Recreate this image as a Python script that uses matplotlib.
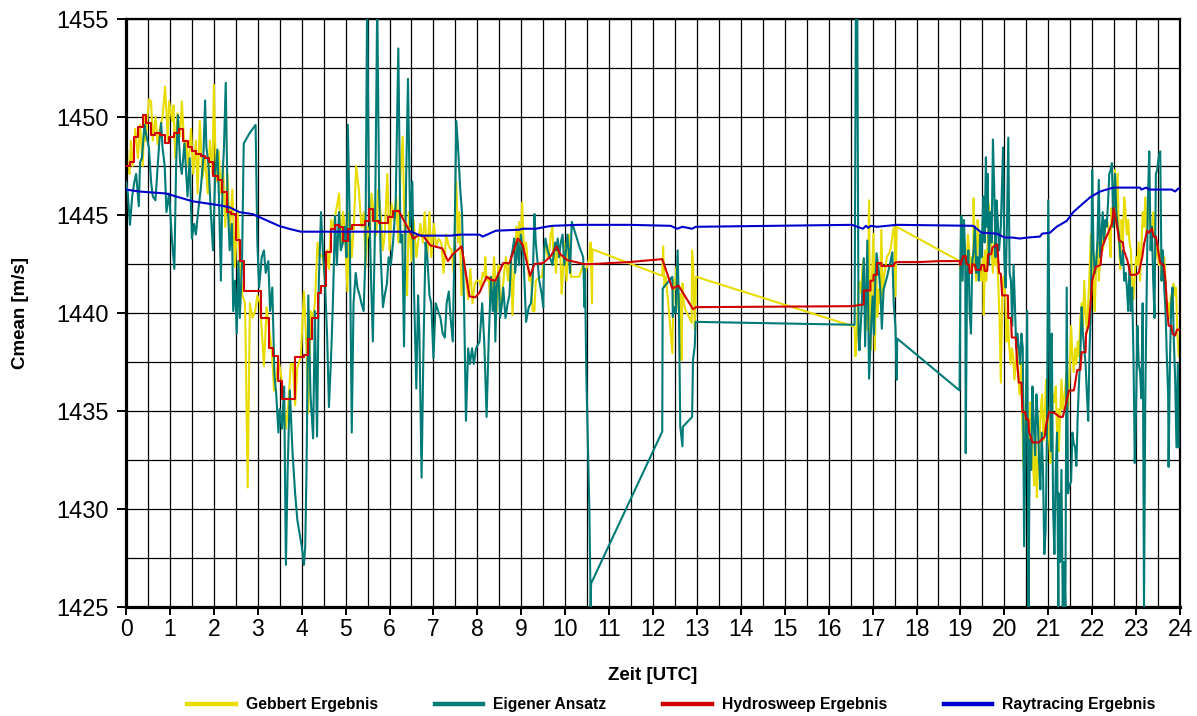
import matplotlib.pyplot as plt
from matplotlib.lines import Line2D
from matplotlib.ticker import MultipleLocator

# (time [h UTC], mean sound velocity [m/s])
gebbert = [
    (0.00, 1449.5), (0.04, 1447.5), (0.08, 1447.1), (0.11, 1448.8), (0.15, 1447.5), (0.21, 1449.4), (0.27, 1447.9),
    (0.32, 1449.6), (0.38, 1447.5), (0.42, 1450.0), (0.45, 1448.8), (0.52, 1450.9), (0.57, 1450.8), (0.61, 1448.8),
    (0.67, 1450.0), (0.72, 1448.6), (0.77, 1449.4), (0.83, 1450.0), (0.89, 1451.55), (0.95, 1448.8), (0.98, 1450.8),
    (1.05, 1449.8), (1.08, 1450.6), (1.12, 1447.9), (1.17, 1450.2), (1.23, 1449.0), (1.27, 1450.8), (1.33, 1448.45),
    (1.36, 1448.8), (1.42, 1447.5), (1.48, 1449.4), (1.53, 1447.1), (1.59, 1448.8), (1.63, 1446.1), (1.68, 1449.8),
    (1.74, 1446.9), (1.80, 1447.9), (1.86, 1446.1), (1.91, 1448.8), (1.97, 1447.1), (2.00, 1451.65), (2.05, 1446.7),
    (2.11, 1448.25), (2.16, 1446.1), (2.21, 1447.5), (2.26, 1444.4), (2.31, 1447.1), (2.36, 1444.0), (2.42, 1446.3),
    (2.48, 1442.35), (2.54, 1445.15), (2.59, 1442.65), (2.65, 1440.9), (2.71, 1440.5), (2.77, 1431.1), (2.82, 1440.5),
    (2.88, 1439.75), (2.94, 1440.1), (2.99, 1440.9), (3.05, 1440.5), (3.09, 1439.15), (3.14, 1437.3), (3.20, 1440.3),
    (3.26, 1439.15), (3.32, 1438.1), (3.37, 1436.05), (3.41, 1436.6), (3.47, 1437.6), (3.52, 1437.0), (3.58, 1435.85),
    (3.64, 1434.1), (3.70, 1435.45), (3.75, 1437.4), (3.80, 1437.4), (3.85, 1435.3), (3.90, 1437.2), (3.98, 1437.8),
    (4.05, 1441.1), (4.11, 1438.2), (4.15, 1434.9), (4.20, 1440.1), (4.26, 1439.75), (4.30, 1440.5), (4.36, 1443.6),
    (4.41, 1442.85), (4.47, 1443.0), (4.53, 1441.65), (4.58, 1443.2), (4.62, 1442.25), (4.67, 1444.75), (4.71, 1444.4),
    (4.76, 1444.95), (4.81, 1445.55), (4.85, 1446.1), (4.89, 1443.4), (4.94, 1445.15), (4.98, 1444.4), (5.04, 1441.1),
    (5.08, 1445.15), (5.14, 1442.85), (5.19, 1444.55), (5.24, 1447.5), (5.30, 1446.3), (5.36, 1444.4), (5.42, 1445.15),
    (5.45, 1442.25), (5.50, 1444.4), (5.55, 1443.8), (5.59, 1446.1), (5.64, 1445.15), (5.70, 1444.0), (5.74, 1446.3),
    (5.80, 1444.95), (5.85, 1443.2), (5.89, 1444.0), (5.95, 1447.1), (6.00, 1443.2), (6.05, 1445.55), (6.10, 1444.75),
    (6.15, 1445.9), (6.20, 1443.6), (6.25, 1447.1), (6.30, 1449.0), (6.35, 1443.2), (6.40, 1440.9), (6.44, 1445.15),
    (6.50, 1442.65), (6.55, 1444.75), (6.61, 1442.85), (6.65, 1443.6), (6.70, 1444.55), (6.76, 1443.6), (6.80, 1445.15),
    (6.86, 1442.85), (6.91, 1445.15), (6.95, 1442.85), (7.01, 1444.55), (7.06, 1443.4), (7.12, 1443.8), (7.18, 1443.6),
    (7.23, 1442.05), (7.29, 1444.0), (7.35, 1443.4), (7.41, 1443.2), (7.46, 1442.05), (7.52, 1446.7), (7.56, 1443.6),
    (7.59, 1445.15), (7.64, 1440.9), (7.69, 1442.85), (7.74, 1441.85), (7.79, 1440.7), (7.84, 1442.25), (7.89, 1440.5),
    (7.94, 1441.5), (7.99, 1441.65), (8.05, 1441.65), (8.08, 1441.3), (8.12, 1442.05), (8.16, 1441.85), (8.18, 1442.85),
    (8.21, 1441.65), (8.26, 1441.85), (8.29, 1440.5), (8.32, 1441.3), (8.35, 1441.3), (8.38, 1442.85), (8.41, 1441.65),
    (8.44, 1440.1), (8.47, 1441.65), (8.48, 1442.45), (8.52, 1440.9), (8.55, 1440.3), (8.58, 1441.3), (8.61, 1442.05),
    (8.65, 1442.85), (8.70, 1441.65), (8.73, 1442.45), (8.77, 1442.85), (8.80, 1439.9), (8.83, 1441.65), (8.86, 1442.65),
    (8.89, 1444.4), (8.92, 1443.2), (8.95, 1444.65), (8.98, 1443.2), (9.02, 1445.65), (9.06, 1443.2), (9.11, 1443.6),
    (9.15, 1442.45), (9.18, 1441.65), (9.22, 1442.05), (9.26, 1440.1), (9.30, 1440.1), (9.33, 1441.65), (9.41, 1441.85),
    (9.47, 1441.85), (9.50, 1442.45), (9.53, 1443.2), (9.56, 1443.6), (9.60, 1442.85), (9.64, 1443.2), (9.67, 1444.0),
    (9.71, 1444.4), (9.73, 1442.85), (9.76, 1443.2), (9.79, 1442.05), (9.83, 1443.6), (9.86, 1443.2), (9.89, 1442.85),
    (9.92, 1441.0), (9.95, 1442.05), (9.98, 1443.6), (10.03, 1441.65), (10.06, 1442.85), (10.09, 1444.0), (10.13, 1441.85),
    (10.32, 1441.85), (10.41, 1442.45), (10.45, 1442.05), (10.51, 1442.45), (10.55, 1442.85), (10.58, 1443.6),
    (10.61, 1440.5), (10.62, 1443.25), (12.21, 1441.9), (12.23, 1443.4), (12.26, 1441.35), (12.29, 1441.85),
    (12.36, 1440.15), (12.41, 1438.8), (12.44, 1437.95), (12.47, 1441.7), (12.50, 1441.2), (12.53, 1442.35),
    (12.58, 1440.15), (12.62, 1441.0), (12.65, 1437.6), (12.67, 1441.5), (12.70, 1440.5), (12.74, 1440.15),
    (12.82, 1439.8), (12.88, 1439.5), (12.89, 1443.2), (12.92, 1442.2), (12.95, 1439.15), (12.98, 1441.85),
    (16.59, 1439.3), (16.61, 1437.8), (16.64, 1438.8), (16.68, 1441.5), (16.71, 1441.6), (16.74, 1441.0), (16.77, 1442.35),
    (16.80, 1442.7), (16.83, 1439.65), (16.86, 1439.15), (16.89, 1440.3), (16.92, 1445.75), (16.94, 1439.15),
    (16.95, 1438.1), (16.98, 1441.5), (17.02, 1444.05), (17.05, 1438.1), (17.08, 1442.2), (17.11, 1439.8), (17.14, 1441.2),
    (17.17, 1440.5), (17.20, 1444.25), (17.23, 1440.85), (17.26, 1441.85), (17.29, 1442.35), (17.33, 1442.9),
    (17.38, 1443.05), (17.42, 1443.4), (17.47, 1444.25), (17.50, 1444.4), (17.52, 1440.85), (17.55, 1444.4),
    (18.98, 1442.65), (19.02, 1441.65), (19.05, 1444.75), (19.08, 1442.45), (19.11, 1442.85), (19.14, 1442.05),
    (19.17, 1444.0), (19.20, 1443.2), (19.23, 1442.05), (19.26, 1442.85), (19.29, 1442.45), (19.30, 1445.85),
    (19.33, 1442.65), (19.36, 1441.65), (19.39, 1444.75), (19.42, 1444.0), (19.45, 1442.45), (19.48, 1441.65),
    (19.52, 1442.85), (19.53, 1439.9), (19.56, 1443.2), (19.59, 1441.65), (19.62, 1443.6), (19.65, 1445.55),
    (19.68, 1444.4), (19.71, 1443.2), (19.74, 1442.05), (19.77, 1443.6), (19.80, 1442.45), (19.83, 1442.85),
    (19.86, 1441.65), (19.89, 1439.75), (19.92, 1436.45), (19.95, 1440.7), (19.98, 1441.85), (20.02, 1440.9),
    (20.05, 1438.55), (20.08, 1439.75), (20.11, 1438.35), (20.14, 1437.4), (20.17, 1438.2), (20.20, 1437.8),
    (20.23, 1436.6), (20.26, 1437.4), (20.29, 1438.2), (20.32, 1436.6), (20.35, 1435.85), (20.38, 1437.4),
    (20.41, 1434.3), (20.44, 1432.0), (20.47, 1434.3), (20.50, 1436.6), (20.53, 1433.9), (20.56, 1432.95),
    (20.59, 1435.45), (20.62, 1434.1), (20.65, 1432.35), (20.68, 1431.2), (20.71, 1433.9), (20.74, 1430.6),
    (20.77, 1432.35), (20.80, 1433.5), (20.83, 1435.1), (20.86, 1435.85), (20.89, 1433.5), (20.92, 1434.7),
    (20.95, 1436.6), (20.98, 1434.9), (21.02, 1433.5), (21.05, 1432.35), (21.08, 1434.9), (21.11, 1435.85),
    (21.14, 1435.45), (21.17, 1436.25), (21.20, 1433.9), (21.23, 1435.1), (21.24, 1432.95), (21.27, 1434.7),
    (21.30, 1436.6), (21.33, 1435.1), (21.36, 1435.65), (21.39, 1436.25), (21.42, 1437.0), (21.45, 1435.1),
    (21.48, 1436.6), (21.52, 1439.35), (21.55, 1437.8), (21.58, 1437.0), (21.61, 1438.2), (21.64, 1437.4),
    (21.67, 1438.55), (21.70, 1437.8), (21.73, 1439.75), (21.76, 1440.5), (21.79, 1439.35), (21.82, 1441.65),
    (21.85, 1440.1), (21.88, 1438.95), (21.91, 1440.5), (21.94, 1442.05), (21.97, 1444.0), (22.00, 1442.85),
    (22.03, 1441.3), (22.06, 1440.1), (22.09, 1442.65), (22.12, 1443.6), (22.15, 1441.65), (22.18, 1442.65),
    (22.21, 1444.0), (22.24, 1443.2), (22.27, 1443.6), (22.30, 1444.4), (22.33, 1444.75), (22.36, 1444.55),
    (22.39, 1444.0), (22.42, 1442.85), (22.44, 1445.35), (22.47, 1444.4), (22.50, 1445.55), (22.52, 1447.3),
    (22.55, 1444.4), (22.58, 1447.1), (22.61, 1443.6), (22.64, 1442.25), (22.67, 1444.75), (22.70, 1443.6),
    (22.73, 1445.9), (22.76, 1445.15), (22.79, 1444.0), (22.82, 1444.75), (22.85, 1443.6), (22.88, 1443.2),
    (22.91, 1441.65), (22.94, 1440.7), (22.97, 1442.05), (23.00, 1442.85), (23.03, 1442.45), (23.06, 1443.6),
    (23.09, 1441.65), (23.12, 1443.2), (23.15, 1445.15), (23.18, 1444.4), (23.21, 1445.9), (23.24, 1444.0),
    (23.27, 1444.95), (23.30, 1445.9), (23.33, 1444.4), (23.36, 1443.6), (23.39, 1445.15), (23.42, 1444.4),
    (23.45, 1442.85), (23.48, 1443.6), (23.52, 1442.45), (23.55, 1443.2), (23.58, 1441.65), (23.61, 1442.05),
    (23.64, 1442.85), (23.67, 1441.65), (23.70, 1440.1), (23.73, 1440.5), (23.76, 1439.75), (23.79, 1440.9),
    (23.82, 1440.1), (23.85, 1441.5), (23.88, 1440.9), (23.91, 1441.3), (23.94, 1438.95), (23.97, 1437.8),
]

eigener = [
    (0.00, 1446.7), (0.04, 1446.1), (0.09, 1444.5), (0.14, 1445.95), (0.19, 1446.7), (0.23, 1447.1), (0.29, 1445.45),
    (0.32, 1447.7), (0.36, 1447.9), (0.42, 1449.6), (0.45, 1449.2), (0.52, 1448.45), (0.57, 1446.7), (0.61, 1445.95),
    (0.67, 1445.75), (0.72, 1447.5), (0.76, 1448.8), (0.80, 1449.7), (0.83, 1448.45), (0.88, 1447.5), (0.92, 1445.15),
    (0.98, 1446.1), (1.05, 1443.6), (1.10, 1442.25), (1.14, 1447.5), (1.18, 1450.1), (1.23, 1447.7), (1.27, 1447.1),
    (1.33, 1448.65), (1.36, 1447.5), (1.40, 1445.95), (1.45, 1447.9), (1.50, 1443.8), (1.55, 1444.55), (1.59, 1444.0),
    (1.64, 1445.15), (1.70, 1446.3), (1.76, 1447.9), (1.80, 1450.85), (1.83, 1448.45), (1.88, 1447.5), (1.93, 1445.15),
    (1.98, 1443.2), (2.03, 1447.1), (2.08, 1448.35), (2.12, 1445.55), (2.16, 1441.65), (2.20, 1447.1), (2.23, 1448.45),
    (2.27, 1451.75), (2.31, 1445.95), (2.36, 1443.2), (2.41, 1444.55), (2.44, 1440.1), (2.48, 1441.65), (2.52, 1438.95),
    (2.56, 1442.65), (2.59, 1439.75), (2.64, 1442.45), (2.68, 1448.65), (2.73, 1448.85), (2.82, 1449.2), (2.95, 1449.6),
    (2.99, 1443.6), (3.03, 1441.3), (3.09, 1442.85), (3.14, 1443.2), (3.18, 1442.05), (3.24, 1442.65), (3.28, 1440.1),
    (3.33, 1441.3), (3.38, 1436.8), (3.42, 1435.85), (3.47, 1433.9), (3.50, 1435.1), (3.55, 1434.1), (3.60, 1436.25),
    (3.64, 1427.15), (3.68, 1432.0), (3.73, 1436.05), (3.79, 1432.95), (3.85, 1430.8), (3.90, 1429.45), (4.00, 1428.1),
    (4.05, 1427.15), (4.08, 1428.1), (4.11, 1432.0), (4.15, 1440.9), (4.20, 1435.85), (4.26, 1433.6), (4.30, 1440.1),
    (4.35, 1433.7), (4.39, 1441.65), (4.44, 1445.15), (4.48, 1443.2), (4.53, 1441.65), (4.58, 1438.75), (4.62, 1435.2),
    (4.67, 1437.8), (4.71, 1440.5), (4.76, 1444.95), (4.80, 1442.45), (4.85, 1445.15), (4.89, 1443.2), (4.94, 1443.6),
    (4.98, 1444.4), (5.02, 1442.85), (5.05, 1449.6), (5.09, 1445.15), (5.14, 1433.9), (5.18, 1440.5), (5.23, 1442.05),
    (5.27, 1441.3), (5.32, 1440.9), (5.36, 1440.5), (5.41, 1440.1), (5.45, 1442.85), (5.49, 1456.0), (5.53, 1446.3),
    (5.58, 1441.65), (5.62, 1438.55), (5.67, 1444.4), (5.72, 1456.0), (5.76, 1446.7), (5.80, 1442.85), (5.85, 1440.3),
    (5.89, 1440.9), (5.94, 1441.5), (5.98, 1442.85), (6.03, 1442.45), (6.08, 1443.6), (6.14, 1445.55), (6.20, 1453.5),
    (6.25, 1443.6), (6.29, 1444.0), (6.33, 1438.3), (6.38, 1447.1), (6.42, 1451.95), (6.47, 1444.4), (6.52, 1446.7),
    (6.56, 1440.9), (6.61, 1436.15), (6.65, 1440.9), (6.68, 1438.95), (6.73, 1431.6), (6.77, 1437.8), (6.82, 1443.6),
    (6.86, 1442.85), (6.91, 1440.9), (6.95, 1440.5), (7.00, 1437.7), (7.05, 1440.5), (7.11, 1440.1), (7.16, 1439.75),
    (7.21, 1438.95), (7.26, 1438.75), (7.30, 1440.5), (7.35, 1441.1), (7.39, 1439.75), (7.44, 1438.55), (7.48, 1443.6),
    (7.52, 1449.8), (7.56, 1448.45), (7.61, 1446.3), (7.65, 1445.15), (7.70, 1440.1), (7.74, 1434.5), (7.79, 1438.2),
    (7.83, 1437.4), (7.88, 1438.2), (7.92, 1437.4), (7.97, 1438.2), (8.05, 1438.55), (8.11, 1440.5), (8.16, 1438.35),
    (8.21, 1434.7), (8.26, 1438.75), (8.31, 1441.85), (8.35, 1440.1), (8.39, 1441.65), (8.41, 1438.55), (8.44, 1441.3),
    (8.48, 1442.05), (8.52, 1439.75), (8.56, 1440.5), (8.59, 1441.3), (8.64, 1439.75), (8.69, 1440.5), (8.73, 1440.9),
    (8.77, 1442.85), (8.80, 1443.2), (8.84, 1443.8), (8.86, 1442.05), (8.89, 1442.85), (8.92, 1443.6), (8.95, 1442.45),
    (8.99, 1444.0), (9.05, 1442.85), (9.11, 1439.55), (9.17, 1440.3), (9.22, 1440.5), (9.26, 1441.65), (9.30, 1445.05),
    (9.33, 1443.6), (9.41, 1441.65), (9.47, 1440.9), (9.50, 1440.3), (9.52, 1443.2), (9.55, 1443.8), (9.60, 1443.2),
    (9.65, 1442.85), (9.71, 1442.45), (9.77, 1443.6), (9.80, 1443.2), (9.83, 1443.8), (9.86, 1442.85), (9.90, 1443.6),
    (9.94, 1444.0), (9.98, 1442.45), (10.02, 1443.2), (10.05, 1444.0), (10.08, 1443.2), (10.11, 1442.05),
    (10.15, 1444.65), (10.24, 1444.0), (10.32, 1443.4), (10.41, 1442.85), (10.44, 1440.3), (10.45, 1442.25),
    (10.48, 1437.0), (10.55, 1430.05), (10.58, 1425.0), (10.59, 1426.2), (12.21, 1433.95), (12.22, 1441.25),
    (12.44, 1441.85), (12.45, 1439.8), (12.48, 1440.3), (12.52, 1440.0), (12.56, 1443.2), (12.59, 1440.15),
    (12.62, 1434.2), (12.67, 1433.2), (12.68, 1434.2), (12.89, 1434.7), (12.91, 1437.6), (12.95, 1438.3),
    (12.97, 1439.55), (16.59, 1439.4), (16.62, 1456.0), (16.65, 1456.0), (16.68, 1438.8), (16.70, 1438.1),
    (16.74, 1439.8), (16.80, 1442.8), (16.83, 1438.3), (16.88, 1443.7), (16.92, 1436.65), (16.97, 1439.5),
    (17.00, 1440.85), (17.03, 1438.9), (17.06, 1441.5), (17.09, 1443.05), (17.14, 1442.2), (17.18, 1441.0),
    (17.21, 1439.2), (17.25, 1441.2), (17.33, 1441.85), (17.40, 1442.55), (17.45, 1443.1), (17.48, 1440.5),
    (17.52, 1439.3), (17.55, 1436.6), (17.56, 1438.7), (18.98, 1436.05), (19.00, 1442.65), (19.02, 1444.95),
    (19.05, 1441.65), (19.08, 1444.75), (19.11, 1442.85), (19.12, 1432.85), (19.15, 1441.65), (19.18, 1443.2),
    (19.21, 1440.1), (19.24, 1438.95), (19.27, 1442.65), (19.30, 1443.2), (19.33, 1444.4), (19.36, 1442.05),
    (19.39, 1442.85), (19.42, 1441.65), (19.45, 1444.0), (19.48, 1442.85), (19.52, 1445.95), (19.55, 1443.6),
    (19.58, 1447.95), (19.60, 1444.4), (19.62, 1447.1), (19.65, 1442.45), (19.68, 1445.15), (19.71, 1443.6),
    (19.74, 1448.85), (19.77, 1446.3), (19.80, 1442.85), (19.82, 1445.75), (19.85, 1444.75), (19.88, 1443.2),
    (19.92, 1444.4), (19.97, 1448.45), (20.00, 1442.85), (20.03, 1441.3), (20.06, 1444.55), (20.09, 1448.95),
    (20.12, 1442.05), (20.15, 1441.65), (20.18, 1439.35), (20.21, 1442.45), (20.24, 1440.5), (20.27, 1438.2),
    (20.30, 1438.95), (20.33, 1438.2), (20.36, 1437.4), (20.39, 1438.95), (20.42, 1438.2), (20.45, 1428.1),
    (20.48, 1433.35), (20.52, 1440.1), (20.55, 1425.0), (20.58, 1433.55), (20.61, 1432.0), (20.64, 1436.25),
    (20.67, 1434.3), (20.70, 1432.75), (20.73, 1435.85), (20.76, 1434.7), (20.79, 1432.55), (20.82, 1431.0),
    (20.85, 1433.9), (20.88, 1432.0), (20.91, 1427.7), (20.94, 1428.9), (20.97, 1433.9), (21.00, 1445.75),
    (21.03, 1438.2), (21.06, 1432.95), (21.08, 1438.95), (21.11, 1430.05), (21.14, 1427.7), (21.17, 1432.0),
    (21.20, 1433.9), (21.23, 1424.6), (21.24, 1430.8), (21.27, 1427.3), (21.30, 1432.0), (21.33, 1425.0),
    (21.36, 1427.3), (21.39, 1425.0), (21.42, 1441.3), (21.45, 1430.8), (21.48, 1431.2), (21.52, 1431.4),
    (21.55, 1433.9), (21.58, 1433.35), (21.61, 1433.15), (21.64, 1432.2), (21.67, 1434.7), (21.70, 1436.45),
    (21.73, 1437.8), (21.76, 1440.3), (21.79, 1438.95), (21.82, 1438.2), (21.85, 1437.4), (21.88, 1435.85),
    (21.91, 1434.5), (21.94, 1438.2), (21.97, 1440.1), (22.00, 1447.3), (22.03, 1443.2), (22.06, 1442.05),
    (22.09, 1442.45), (22.12, 1443.6), (22.15, 1446.8), (22.18, 1442.85), (22.21, 1444.0), (22.24, 1445.15),
    (22.27, 1443.6), (22.30, 1444.75), (22.33, 1444.4), (22.36, 1445.55), (22.39, 1447.1), (22.42, 1447.3),
    (22.45, 1447.65), (22.48, 1444.4), (22.52, 1447.1), (22.55, 1445.15), (22.58, 1444.4), (22.61, 1444.0),
    (22.64, 1442.85), (22.67, 1442.45), (22.70, 1443.2), (22.73, 1441.65), (22.76, 1442.05), (22.79, 1441.3),
    (22.82, 1440.1), (22.85, 1442.45), (22.88, 1440.1), (22.91, 1441.3), (22.94, 1437.8), (22.97, 1432.35),
    (23.00, 1435.25), (23.03, 1439.35), (23.06, 1437.4), (23.09, 1437.0), (23.12, 1435.65), (23.15, 1440.5),
    (23.18, 1425.0), (23.21, 1435.85), (23.24, 1440.9), (23.27, 1445.95), (23.30, 1448.25), (23.33, 1443.2),
    (23.36, 1444.4), (23.39, 1441.65), (23.42, 1439.75), (23.45, 1447.1), (23.48, 1447.3), (23.52, 1448.05),
    (23.55, 1448.25), (23.58, 1441.65), (23.61, 1443.2), (23.64, 1441.3), (23.67, 1440.1), (23.70, 1437.8),
    (23.73, 1435.85), (23.74, 1432.15), (23.77, 1437.4), (23.80, 1440.5), (23.83, 1441.3), (23.86, 1438.55),
    (23.89, 1436.6), (23.92, 1433.15), (23.95, 1437.4), (23.97, 1433.15),
]

# Hydrosweep: stepwise in the morning (value holds until the next time)
hydrosweep_steps = [
    (0.00, 1447.5), (0.09, 1447.7), (0.18, 1449.0), (0.27, 1449.5), (0.38, 1450.1), (0.45, 1449.7), (0.57, 1449.1),
    (0.67, 1449.2), (0.77, 1449.1), (0.88, 1448.7), (0.98, 1449.0), (1.09, 1449.2), (1.20, 1449.4), (1.30, 1448.8),
    (1.40, 1448.45), (1.50, 1448.25), (1.59, 1448.1), (1.70, 1448.0), (1.80, 1447.9), (1.89, 1447.7), (1.98, 1447.0),
    (2.09, 1446.8), (2.18, 1446.2), (2.29, 1445.15), (2.39, 1445.05), (2.50, 1443.75), (2.59, 1442.65), (2.69, 1441.1),
    (3.07, 1439.75), (3.26, 1438.2), (3.35, 1437.8), (3.45, 1436.55), (3.55, 1435.6), (3.85, 1437.75), (4.05, 1437.85),
    (4.15, 1438.65), (4.24, 1439.75), (4.36, 1441.0), (4.45, 1441.4), (4.55, 1443.1), (4.66, 1444.3), (4.76, 1444.5),
    (4.85, 1444.4), (4.95, 1443.7), (5.06, 1444.3), (5.15, 1444.5), (5.25, 1444.5), (5.44, 1444.7), (5.53, 1445.3),
    (5.62, 1444.7), (5.76, 1444.6), (5.97, 1444.9), (6.08, 1445.2), (6.21, 1445.2),
]

hydrosweep = [
    (6.21, 1445.2), (6.55, 1443.8), (6.67, 1444.0), (6.78, 1443.9), (6.93, 1443.45), (7.20, 1443.3), (7.33, 1442.65),
    (7.44, 1443.0), (7.64, 1443.4), (7.82, 1440.85), (7.95, 1440.8), (8.05, 1441.05), (8.12, 1441.4), (8.21, 1441.85),
    (8.31, 1441.7), (8.41, 1441.65), (8.59, 1442.55), (8.73, 1442.55), (8.92, 1443.8), (9.03, 1443.5), (9.20, 1441.9),
    (9.30, 1442.5), (9.50, 1442.55), (9.67, 1442.9), (9.80, 1443.4), (9.89, 1443.0), (10.05, 1442.7), (10.24, 1442.6),
    (10.43, 1442.5), (10.62, 1442.5), (11.45, 1442.6), (12.21, 1442.75), (12.44, 1441.25), (12.58, 1441.4),
    (12.91, 1440.2), (12.98, 1440.3), (16.53, 1440.35), (16.68, 1440.4), (16.80, 1440.45), (16.80, 1441.15),
    (16.95, 1441.15), (16.95, 1441.65), (17.02, 1441.65), (17.02, 1441.95), (17.10, 1441.95), (17.10, 1442.55),
    (17.20, 1442.55), (17.20, 1442.4), (17.48, 1442.4), (17.50, 1442.55), (17.56, 1442.6), (18.05, 1442.6),
    (18.52, 1442.65), (18.98, 1442.65), (19.00, 1442.45), (19.06, 1442.9), (19.12, 1442.9), (19.14, 1442.5),
    (19.20, 1442.45), (19.21, 1442.05), (19.26, 1442.05), (19.27, 1442.5), (19.33, 1442.45), (19.35, 1442.2),
    (19.46, 1442.2), (19.48, 1442.45), (19.54, 1442.45), (19.55, 1442.15), (19.61, 1442.15), (19.63, 1443.0),
    (19.70, 1443.0), (19.73, 1443.35), (19.84, 1443.5), (19.88, 1442.05), (19.92, 1442.0), (19.95, 1440.9),
    (20.08, 1440.9), (20.09, 1439.75), (20.15, 1439.75), (20.17, 1438.75), (20.26, 1438.75), (20.29, 1437.5),
    (20.33, 1436.45), (20.39, 1436.45), (20.41, 1434.95), (20.47, 1434.95), (20.50, 1434.6), (20.55, 1434.55),
    (20.56, 1433.95), (20.64, 1433.4), (20.79, 1433.4), (20.83, 1433.5), (20.92, 1433.7), (20.95, 1434.3),
    (21.02, 1434.95), (21.14, 1434.9), (21.26, 1434.7), (21.33, 1434.7), (21.36, 1434.95), (21.41, 1435.45),
    (21.47, 1436.05), (21.58, 1436.05), (21.60, 1436.25), (21.66, 1437.1), (21.73, 1437.1), (21.76, 1438.0),
    (21.85, 1438.0), (21.86, 1438.95), (21.92, 1439.35), (21.96, 1440.4), (22.00, 1441.65), (22.08, 1442.35),
    (22.19, 1442.45), (22.23, 1443.4), (22.45, 1444.55), (22.49, 1445.35), (22.57, 1444.4), (22.61, 1443.7),
    (22.70, 1443.6), (22.72, 1443.2), (22.80, 1442.7), (22.83, 1442.4), (22.87, 1441.95), (22.98, 1441.95),
    (23.06, 1442.05), (23.10, 1442.45), (23.14, 1442.85), (23.18, 1443.5), (23.25, 1444.2), (23.29, 1444.1),
    (23.36, 1444.3), (23.40, 1443.9), (23.45, 1443.9), (23.50, 1443.2), (23.55, 1442.55), (23.63, 1442.45),
    (23.67, 1441.65), (23.71, 1440.1), (23.74, 1439.35), (23.80, 1439.35), (23.83, 1438.95), (23.89, 1438.85),
    (23.93, 1439.15), (24.00, 1439.15),
]

raytracing = [
    (0.00, 1446.3), (0.30, 1446.2), (0.91, 1446.1), (1.21, 1445.9), (1.52, 1445.7), (1.82, 1445.6), (2.12, 1445.5),
    (2.35, 1445.4), (2.58, 1445.15), (2.88, 1445.05), (3.18, 1444.75), (3.48, 1444.45), (3.71, 1444.3), (3.98, 1444.15),
    (4.50, 1444.15), (6.50, 1444.15), (6.70, 1443.95), (7.40, 1443.95), (7.60, 1444.0), (8.05, 1444.0), (8.12, 1443.9),
    (8.42, 1444.2), (8.95, 1444.25), (9.03, 1444.3), (9.33, 1444.3), (9.56, 1444.4), (9.71, 1444.45), (10.32, 1444.5),
    (11.45, 1444.5), (12.40, 1444.45), (12.55, 1444.3), (12.67, 1444.4), (12.89, 1444.3), (12.97, 1444.4),
    (16.53, 1444.5), (16.78, 1444.3), (16.85, 1444.45), (16.90, 1444.35), (16.96, 1444.45), (17.10, 1444.4),
    (17.55, 1444.5), (19.29, 1444.45), (19.48, 1444.1), (19.83, 1444.05), (20.01, 1443.85), (20.20, 1443.85),
    (20.35, 1443.8), (20.52, 1443.85), (20.81, 1443.9), (20.86, 1444.05), (21.04, 1444.1), (21.19, 1444.4),
    (21.42, 1444.7), (21.57, 1445.15), (21.72, 1445.45), (21.95, 1445.9), (22.18, 1446.2), (22.48, 1446.4),
    (23.09, 1446.4), (23.12, 1446.3), (23.23, 1446.4), (23.30, 1446.3), (23.81, 1446.3), (23.89, 1446.2),
    (23.96, 1446.35), (24.00, 1446.35),
]

labels = ["Gebbert Ergebnis", "Eigener Ansatz", "Hydrosweep Ergebnis", "Raytracing Ergebnis"]
colors = ["#E8DC00", "#007B78", "#D10000", "#0000CD"]
hours = list(range(0, 25))
y_ticks = [1425, 1430, 1435, 1440, 1445, 1450, 1455]

plt.rcParams['font.family'] = ['Liberation Sans', 'DejaVu Sans']


def unzip(points):
    return [p[0] for p in points], [p[1] for p in points]


fig = plt.figure(figsize=(11.97, 7.16), dpi=100)
ax = fig.add_axes([0.1053, 0.1522, 0.8805, 0.8212])

lw = 1.5
ax.plot(*unzip(gebbert), color=colors[0], lw=lw, zorder=2)
ax.plot(*unzip(eigener), color=colors[1], lw=lw, zorder=3)
ax.step(*unzip(hydrosweep_steps), where="post", color=colors[2], lw=lw, zorder=4)
ax.plot(*unzip(hydrosweep), color=colors[2], lw=lw, zorder=4)
ax.plot(*unzip(raytracing), color=colors[3], lw=lw, zorder=5)

ax.set_xlim(0, 24)
ax.set_ylim(1425, 1455)
ax.set_xticks(hours)
ax.set_yticks(y_ticks)
ax.xaxis.set_minor_locator(MultipleLocator(0.5))
ax.yaxis.set_minor_locator(MultipleLocator(2.5))
ax.tick_params(which="minor", length=0)
ax.tick_params(axis="x", which="major", direction="out", length=6, width=1.4, labelsize=16.5, pad=2)
ax.tick_params(axis="y", which="major", direction="out", length=6.5, width=1.4, labelsize=17, pad=6)

ax.set_axisbelow(True)
ax.grid(which="both", color="black", linewidth=0.9)

ax.spines["left"].set_linewidth(2.3)
ax.spines["bottom"].set_linewidth(2.3)
ax.spines["top"].set_linewidth(1.6)
ax.spines["right"].set_linewidth(1.6)

ax.set_xlabel("Zeit [UTC]", fontsize=13.5, fontweight="bold", va="center")
ax.xaxis.set_label_coords(0.5, -0.116)
ax.set_ylabel("Cmean [m/s]", fontsize=13.5, fontweight="bold", va="center")
ax.yaxis.set_label_coords(-0.1006, 0.5)

handles = [Line2D([], [], color=c, lw=3.2) for c in colors]
fig.legend(handles, labels, loc="center", bbox_to_anchor=(0.561, 0.016), ncol=4, frameon=False,
           prop={"weight": "bold", "size": 11.3}, handlelength=3.1, handletextpad=0.64,
           columnspacing=3.6, borderpad=0)

fig.savefig("out.png", dpi=100)
